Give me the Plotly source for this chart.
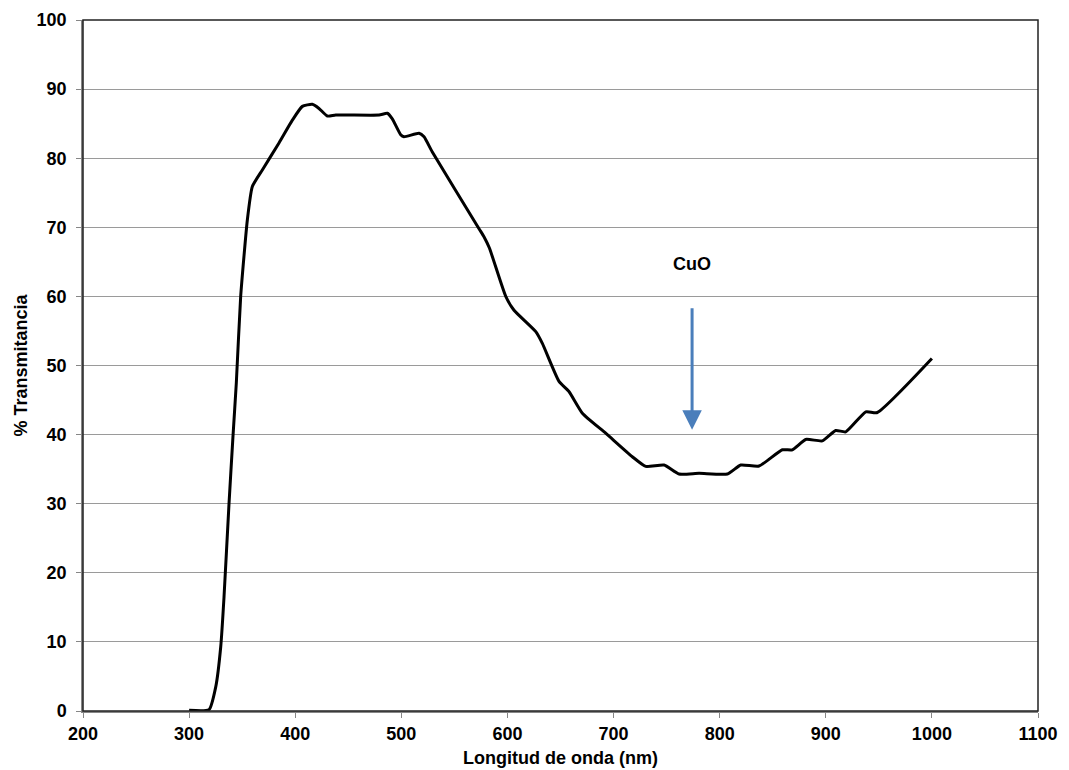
import plotly.graph_objects as go

wavelength = [300, 318.8, 325.1, 329.8, 332.9, 337.6, 341.4, 344.5, 348.6, 354.9, 359.6, 369, 384.7,
              397.3, 406.7, 416.1, 422.4, 430.3, 438.2, 479, 486.8, 491.5, 499.4, 502.5, 516.7, 521.4,
              529.2, 573.2, 578, 583, 598.4, 606.2, 626.7, 632.9, 648.6, 658.1, 670.6, 692.6, 717.7,
              730.3, 747.6, 761.7, 780.6, 807.3, 819.9, 837.1, 859.1, 868.5, 881.1, 896.8, 909.4,
              918.8, 937.7, 948.6, 1000]
transmittance = [0.1, 0.2, 3.5, 9.3, 16.5, 30.0, 39.9, 47.5, 60.0, 71.1, 75.9, 78.3, 82.2,
                 85.5, 87.5, 87.8, 87.2, 86.1, 86.25, 86.25, 86.5, 85.7, 83.4, 83.1, 83.6, 83.1,
                 80.9, 69.8, 68.6, 67.0, 60.0, 58.0, 54.9, 53.2, 47.7, 46.2, 43.1, 40.2, 36.8,
                 35.4, 35.6, 34.3, 34.4, 34.3, 35.6, 35.45, 37.8, 37.8, 39.3, 39.1, 40.6,
                 40.4, 43.3, 43.2, 51.0]

x_ticks = [200, 300, 400, 500, 600, 700, 800, 900, 1000, 1100]
y_ticks = [0, 10, 20, 30, 40, 50, 60, 70, 80, 90, 100]

label_text = "CuO"
label_pos = (774, 64.7)
arrow_x = 774
arrow_from = 58.5
arrow_to = 40.7

font_family = "Liberation Sans, Arial, sans-serif"

fig = go.Figure()
fig.add_trace(go.Scatter(
    x=wavelength, y=transmittance, mode="lines",
    line=dict(color="black", width=3, shape="spline", smoothing=0.5),
    showlegend=False, hoverinfo="skip",
))

fig.add_annotation(x=label_pos[0], y=label_pos[1], text="<b>%s</b>" % label_text,
                   showarrow=False, font=dict(family=font_family, size=18, color="black"),
                   xref="x", yref="y")
fig.add_annotation(x=arrow_x, y=arrow_to, ax=arrow_x, ay=arrow_from,
                   xref="x", yref="y", axref="x", ayref="y",
                   showarrow=True, arrowhead=2, arrowsize=1.3, arrowwidth=3,
                   arrowcolor="#4a7ebb", text="")

fig.add_shape(type="rect", xref="x domain", yref="y domain", x0=0, x1=1, y0=0, y1=1,
              line=dict(color="#222222", width=1.5), layer="above")

axis_font = dict(family=font_family, size=18, color="black")
fig.update_layout(
    width=1069, height=770,
    margin=dict(l=83, r=31, t=20, b=59),
    paper_bgcolor="white", plot_bgcolor="white",
    font=dict(family=font_family, color="black"),
    xaxis=dict(
        range=[200, 1100], tickvals=x_ticks, ticktext=["<b>%d</b>" % v for v in x_ticks],
        showgrid=False, zeroline=False, automargin=False,
        showline=True, linecolor="#868686", linewidth=1.5,
        ticks="outside", ticklen=5, tickcolor="#868686",
        tickfont=axis_font, ticklabelstandoff=1,
        title=dict(text="<b>Longitud de onda (nm)</b>", font=axis_font, standoff=8),
    ),
    yaxis=dict(
        range=[0, 100], tickvals=y_ticks, ticktext=["<b>%d</b>" % v for v in y_ticks],
        showgrid=True, gridcolor="#9a9a9a", gridwidth=1, zeroline=False, automargin=False,
        showline=True, linecolor="#868686", linewidth=1.5,
        ticks="outside", ticklen=5, tickcolor="#868686",
        tickfont=axis_font, ticklabelstandoff=6,
        title=dict(text="<b>% Transmitancia</b>", font=axis_font, standoff=4),
    ),
)

fig.write_html("out.html")
